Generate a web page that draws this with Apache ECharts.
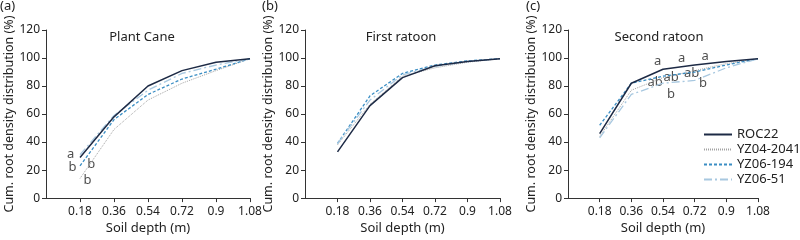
<!DOCTYPE html>
<html>
<head>
<meta charset="utf-8">
<script src="https://cdn.jsdelivr.net/npm/echarts@6/dist/echarts.min.js"></script>
<style>
  html, body { margin: 0; padding: 0; background: #fff; }
  #chart { width: 800px; height: 240px; }
</style>
</head>
<body>
<div id="chart"></div>
<script>
// soil depth categories (m)
const depths = [0.18, 0.36, 0.54, 0.72, 0.9, 1.08]
const varieties = ['ROC22', 'YZ04-2041', 'YZ06-194', 'YZ06-51']

// cumulative root density distribution (%), one array per variety per panel
const plantCane = {
  'ROC22':     [29, 58, 80, 91, 97, 99.5],
  'YZ04-2041': [14, 49, 70, 82, 91, 99.5],
  'YZ06-194':  [23, 56, 74, 85, 92, 99.5],
  'YZ06-51':   [31, 59, 77, 89, 95, 99.5]
}
const firstRatoon = {
  'ROC22':     [33, 66, 86, 94.5, 97.5, 99.5],
  'YZ04-2041': [38, 67, 87, 93, 97, 99.5],
  'YZ06-194':  [39, 73, 89, 95, 98, 99.5],
  'YZ06-51':   [39, 70, 88, 94, 97.5, 99.5]
}
const secondRatoon = {
  'ROC22':     [46, 82, 92, 95, 97.5, 99.5],
  'YZ04-2041': [44, 77, 86, 91, 96, 99.5],
  'YZ06-194':  [52, 82, 87, 90, 95, 99.5],
  'YZ06-51':   [43, 74, 82, 84, 93, 99.5]
}

// significance letters [depth, value, letter]
const lettersA = [[0.13, 31, 'a'], [0.14, 22, 'b'], [0.24, 24, 'b'], [0.22, 13, 'b']]
const lettersC = [
  [0.51, 98, 'a'], [0.646, 100, 'a'], [0.779, 101, 'a'],
  [0.495, 82.5, 'ab'], [0.586, 86, 'ab'], [0.586, 74, 'b'],
  [0.703, 89, 'ab'], [0.767, 82, 'b']
]

const panels = [
  { tag: '(a)', tagX: 0, title: 'Plant Cane', titleX: 142, data: plantCane, letters: lettersA, left: 46, right: 250 },
  { tag: '(b)', tagX: 262, title: 'First ratoon', titleX: 401, data: firstRatoon, letters: [], left: 305, right: 500 },
  { tag: '(c)', tagX: 526, title: 'Second ratoon', titleX: 659, data: secondRatoon, letters: lettersC, left: 568, right: 758 }
]

const styles = {
  'ROC22':     { color: '#1d2a45', width: 1.5, type: 'solid' },
  'YZ04-2041': { color: '#a3a3a3', width: 1, type: [1, 1] },
  'YZ06-194':  { color: '#3b8ec4', width: 1.3, type: [3, 2] },
  'YZ06-51':   { color: '#a8c8e0', width: 1.3, type: [8, 3, 2, 3] }
}

const FONT = 'Noto Sans'
const TXT = '#222'

const chart = echarts.init(document.getElementById('chart'))

const grid = [], xAxis = [], yAxis = [], series = [], title = []

panels.forEach((p, i) => {
  grid.push({ left: p.left, width: p.right - p.left, top: 30, height: 171 })
  xAxis.push({
    gridIndex: i, type: 'value', min: 0, max: 1.08,
    name: 'Soil depth (m)', nameLocation: 'middle', nameGap: 22,
    nameTextStyle: { fontFamily: FONT, fontSize: 13, color: TXT },
    axisLine: { lineStyle: { color: '#333' } },
    axisTick: { customValues: depths, length: 4, lineStyle: { color: '#333' } },
    axisLabel: { customValues: depths, fontFamily: FONT, fontSize: 12, color: TXT, margin: 7 },
    splitLine: { show: false }
  })
  yAxis.push({
    gridIndex: i, type: 'value', min: 0, max: 120, interval: 20,
    name: 'Cum. root density distribution (%)', nameLocation: 'middle', nameGap: 29,
    nameTextStyle: { fontFamily: FONT, fontSize: 12.5, color: TXT },
    axisLine: { show: true, lineStyle: { color: '#333' } },
    axisTick: { show: true, length: 4, lineStyle: { color: '#333' } },
    axisLabel: { fontFamily: FONT, fontSize: 12, color: TXT, margin: 6 },
    splitLine: { show: false }
  })
  title.push({ text: p.tag, left: p.tagX, top: 0, padding: 0,
    textStyle: { fontFamily: FONT, fontSize: 13, fontWeight: 'normal', color: TXT } })
  title.push({ text: p.title, left: p.titleX, top: 31, padding: 0, textAlign: 'center',
    textStyle: { fontFamily: FONT, fontSize: 13, fontWeight: 'normal', color: TXT } })

  varieties.forEach(v => {
    series.push({
      name: v, type: 'line', xAxisIndex: i, yAxisIndex: i,
      data: depths.map((d, k) => [d, p.data[v][k]]),
      symbol: 'none', silent: true,
      lineStyle: styles[v], itemStyle: { color: styles[v].color },
      z: v === 'ROC22' ? 5 : 3
    })
  })

  if (p.letters.length) {
    series.push({
      name: 'letters' + i, type: 'scatter', xAxisIndex: i, yAxisIndex: i,
      symbolSize: 1, itemStyle: { color: 'transparent' }, silent: true,
      data: p.letters.map(l => ({ value: [l[0], l[1]], name: l[2] })),
      label: { show: true, position: 'inside', formatter: '{b}',
        fontFamily: FONT, fontSize: 13, color: TXT }
    })
  }
})

chart.setOption({
  animation: false,
  title: title,
  grid: grid,
  xAxis: xAxis,
  yAxis: yAxis,
  legend: {
    data: varieties, orient: 'vertical', left: 703, top: 128,
    itemWidth: 28, itemHeight: 14, itemGap: 2, padding: 0,
    itemStyle: { opacity: 0 },
    textStyle: { fontFamily: FONT, fontSize: 13, color: TXT }
  },
  series: series
})
</script>
</body>
</html>
